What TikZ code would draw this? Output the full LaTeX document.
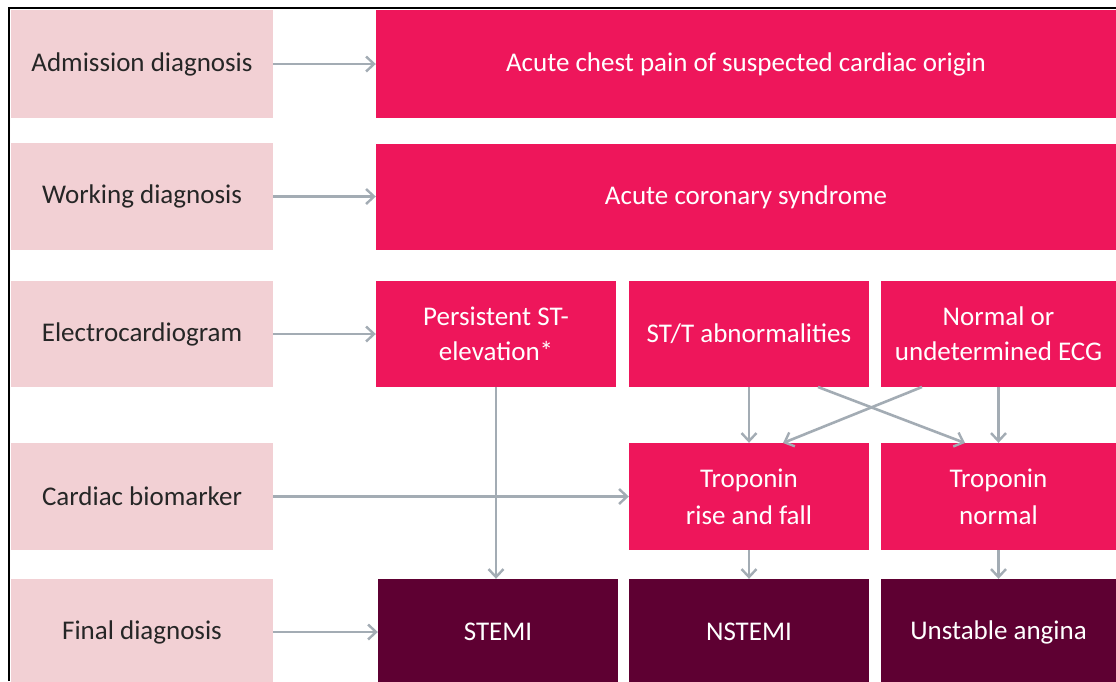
\documentclass[tikz,border=0pt]{standalone}
\usepackage{fontspec}
\setmainfont{Carlito}
\usetikzlibrary{arrows.meta}
\definecolor{lpink}{HTML}{F2D0D4}
\definecolor{mag}{HTML}{EE165B}
\definecolor{dark}{HTML}{5E0032}
\definecolor{agray}{HTML}{A3ACB4}
\definecolor{txt}{HTML}{262626}
\tikzset{
  lbox/.style={fill=lpink, draw=none, text=txt, font=\fontsize{27}{32}\selectfont, align=center},
  rbox/.style={fill=mag, draw=none, text=white, font=\fontsize{27}{35}\selectfont, align=center},
  fbox/.style={fill=dark, draw=none, text=white, font=\fontsize{27}{32}\selectfont, align=center},
  arr/.style={draw=agray, line width=2.6pt, -{Straight Barb[length=8pt,width=15pt,line width=2.4pt]}}
}
\begin{document}
\begin{tikzpicture}[x=1pt,y=-1pt]
\useasboundingbox (0,0) rectangle (1116,681);
\fill[white] (0,0) rectangle (1116,681);
% frame
\draw[black, line width=1.6pt] (9,681) -- (9,8) -- (1116,8);
% left column
\node[lbox, minimum width=262pt, minimum height=108pt] (l1) at (142,64) {Admission diagnosis};
\node[lbox, minimum width=262pt, minimum height=107pt] (l2) at (142,196.5) {Working diagnosis};
\node[lbox, minimum width=262pt, minimum height=106pt] (l3) at (142,334) {Electrocardiogram};
\node[lbox, minimum width=262pt, minimum height=107pt] (l4) at (142,496.5) {Cardiac biomarker};
\node[lbox, minimum width=262pt, minimum height=106pt] (l5) at (142,632) {Final diagnosis};
% right
\node[rbox, minimum width=740pt, minimum height=108pt] (r1) at (746,64) {Acute chest pain of suspected cardiac origin};
\node[rbox, minimum width=740pt, minimum height=106pt] (r2) at (746,197) {Acute coronary syndrome};
\node[rbox, minimum width=240pt, minimum height=106pt] (e1) at (496,334) {Persistent ST-\\elevation*};
\node[rbox, minimum width=240pt, minimum height=106pt] (e2) at (749,334) {ST/T abnormalities};
\node[rbox, minimum width=235pt, minimum height=106pt] (e3) at (998.5,334) {Normal or\\undetermined ECG};
\node[rbox, minimum width=240pt, minimum height=107pt, font=\fontsize{27}{37}\selectfont] (t1) at (749,496.5) {Troponin\\rise and fall};
\node[rbox, minimum width=235pt, minimum height=107pt, font=\fontsize{27}{37}\selectfont] (t2) at (998.5,496.5) {Troponin\\normal};
\node[fbox, minimum width=240pt, minimum height=106pt] (f1) at (498,632) {STEMI};
\node[fbox, minimum width=240pt, minimum height=106pt] (f2) at (749,632) {NSTEMI};
\node[fbox, minimum width=235pt, minimum height=106pt] (f3) at (998.5,632) {Unstable angina};
% arrows
\draw[arr] (l1.east) -- (r1.west);
\draw[arr] (l2.east) -- (l2.east -| r2.west);
\draw[arr] (l3.east) -- (e1.west);
\draw[arr] (l4.east) -- (l4.east -| t1.west);
\draw[arr] (l5.east) -- (f1.west);
\draw[arr] (e1.south) -- (e1.south |- f1.north);
\draw[arr] (e2.south) -- (t1.north);
\draw[arr] (e3.south) -- (e3.south |- t2.north);
\draw[arr] (t1.south) -- (f2.north);
\draw[arr] (t2.south) -- (t2.south |- f3.north);
\coordinate (c1) at (818,387);
\coordinate (c2) at (965,443);
\coordinate (c3) at (922,387);
\coordinate (c4) at (783,443);
\draw[arr] (c1) -- (c2);
\draw[arr] (c3) -- (c4);
\end{tikzpicture}
\end{document}
